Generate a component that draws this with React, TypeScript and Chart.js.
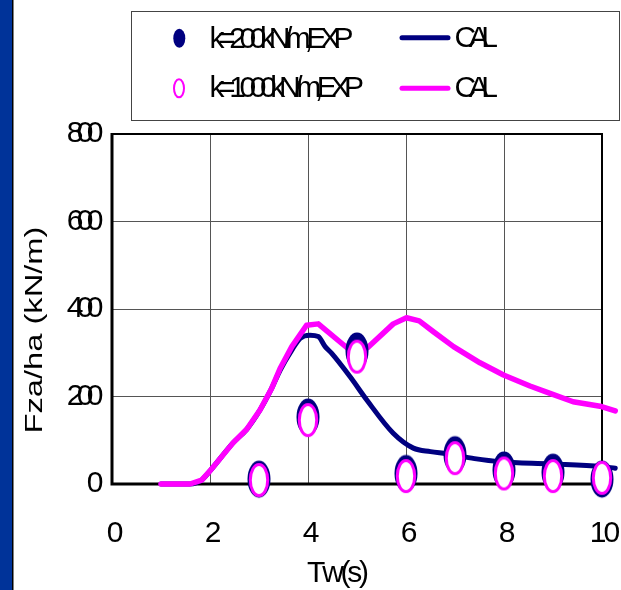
import React, { useEffect, useRef } from "react";
import { Chart, registerables } from "chart.js";

Chart.register(...registerables);

// ---- data ----
const xTicks = [0, 2, 4, 6, 8, 10];
const xTickLabels = ["0", "2", "4", "6", "8", "10"];
const yTicks = [0, 200, 400, 600, 800];
const yTickLabels = ["0", "200", "400", "600", "800"];

const expX = [3, 4, 5, 6, 7, 8, 9, 10];
const exp200 = [11, 153, 304, 24, 67, 32, 27, 11];
const exp1000 = [9, 146, 291, 18, 59, 24, 18, 14];

const cal200X = [1.0, 1.59, 1.83, 2.0, 2.47, 2.75, 3.02, 3.26, 3.43, 3.67, 3.84, 4.04, 4.21, 4.35, 4.48, 4.86, 5.2, 5.74, 6.15, 6.5, 6.83, 7.4, 7.92, 8.94, 9.99, 10.27];
const cal200Y = [0, 0, 9, 30, 94, 125, 169, 219, 260, 306, 333, 340, 337, 314, 299, 245, 192, 116, 82, 74, 69, 58, 51, 46, 40, 36];

const cal1000X = [1.0, 1.59, 1.83, 2.0, 2.47, 2.75, 3.02, 3.26, 3.43, 3.67, 3.97, 4.21, 4.79, 4.97, 5.22, 5.74, 6.01, 6.27, 6.56, 6.97, 7.51, 7.99, 8.53, 8.94, 9.41, 9.99, 10.27];
const cal1000Y = [0, 0, 9, 30, 94, 125, 169, 219, 264, 314, 363, 366, 312, 298, 312, 366, 380, 373, 348, 314, 277, 249, 224, 207, 188, 177, 167];

const seriesLabels = ["k=200kN/m,EXP", "k=1000kN/m,EXP", "CAL", "CAL"];
const xTitle = "Tw(s)";
const yTitle = "Fza/ha (kN/m)";

const NAVY = "#000080";
const PINK = "#FF00FF";
const FONT = '"Liberation Sans", Arial, sans-serif';

function makeNavyMarker() {
  const c = document.createElement("canvas");
  c.width = 26;
  c.height = 40;
  const g = c.getContext("2d")!;
  g.fillStyle = NAVY;
  g.beginPath();
  g.ellipse(13, 20, 11.5, 18.5, 0, 0, Math.PI * 2);
  g.fill();
  return c;
}

function makePinkMarker() {
  const c = document.createElement("canvas");
  c.width = 24;
  c.height = 36;
  const g = c.getContext("2d")!;
  g.fillStyle = "#FFFFFF";
  g.strokeStyle = PINK;
  g.lineWidth = 3;
  g.beginPath();
  g.ellipse(12, 18, 8.7, 15.5, 0, 0, Math.PI * 2);
  g.fill();
  g.stroke();
  return c;
}

function drawSpaced(
  ctx: CanvasRenderingContext2D,
  text: string,
  x: number,
  y: number,
  spacing: number,
  align: "left" | "right" | "center"
) {
  const chars = [...text];
  const widths = chars.map((c) => ctx.measureText(c).width);
  const total = widths.reduce((a, b) => a + b, 0) + spacing * (chars.length - 1);
  let cx = align === "left" ? x : align === "right" ? x - total : x - total / 2;
  ctx.textAlign = "left";
  chars.forEach((c, i) => {
    ctx.fillText(c, cx, y);
    cx += widths[i] + spacing;
  });
}

const decorPlugin = {
  id: "decor",
  beforeDraw(chart: any) {
    const ctx = chart.ctx as CanvasRenderingContext2D;
    ctx.save();
    ctx.fillStyle = "#FFFFFF";
    ctx.fillRect(0, 0, chart.width, chart.height);
    ctx.fillStyle = "#003399";
    ctx.fillRect(0, 0, 12, chart.height);
    ctx.fillStyle = "#000000";
    ctx.fillRect(12, 0, 1.5, chart.height);
    ctx.restore();
  },
  beforeDatasetsDraw(chart: any) {
    const ctx = chart.ctx as CanvasRenderingContext2D;
    const { left, right, top, bottom } = chart.chartArea;
    ctx.save();
    ctx.strokeStyle = "#000000";
    ctx.lineWidth = 2;
    ctx.beginPath();
    ctx.moveTo(left, top);
    ctx.lineTo(right, top);
    ctx.lineTo(right, bottom);
    ctx.stroke();
    ctx.lineWidth = 3;
    ctx.beginPath();
    ctx.moveTo(left, top - 1);
    ctx.lineTo(left, bottom);
    ctx.lineTo(right + 1, bottom);
    ctx.stroke();
    ctx.restore();
  },
  afterDraw(chart: any) {
    const ctx = chart.ctx as CanvasRenderingContext2D;
    const xs = chart.scales.x;
    const ys = chart.scales.y;
    ctx.save();
    ctx.fillStyle = "#000000";
    ctx.textBaseline = "alphabetic";

    // y tick labels
    ctx.font = `30px ${FONT}`;
    yTicks.forEach((v, i) => {
      const py = ys.getPixelForValue(v);
      drawSpaced(ctx, yTickLabels[i], 103.5, py + 8, -6.7, "right");
    });
    // x tick labels
    xTicks.forEach((v, i) => {
      const px = xs.getPixelForValue(v);
      drawSpaced(ctx, xTickLabels[i], px + 3, 541.7, -3, "center");
    });
    // x title
    drawSpaced(ctx, xTitle, 338, 581.7, -3.3, "center");

    // y title (rotated, stretched)
    ctx.save();
    ctx.translate(41.5, 330);
    ctx.rotate(-Math.PI / 2);
    ctx.scale(1.42, 1);
    ctx.font = `23px ${FONT}`;
    ctx.textAlign = "center";
    ctx.fillText(yTitle, 0, 0);
    ctx.restore();

    // legend box
    ctx.strokeStyle = "#444444";
    ctx.lineWidth = 1;
    ctx.strokeRect(131.5, 11.5, 488, 109);

    // legend markers
    ctx.fillStyle = NAVY;
    ctx.beginPath();
    ctx.ellipse(179.3, 38.3, 6, 9.5, 0, 0, Math.PI * 2);
    ctx.fill();
    ctx.fillStyle = "#FFFFFF";
    ctx.strokeStyle = PINK;
    ctx.lineWidth = 2;
    ctx.beginPath();
    ctx.ellipse(179, 88.3, 5, 9, 0, 0, Math.PI * 2);
    ctx.fill();
    ctx.stroke();

    // legend lines
    ctx.lineCap = "round";
    ctx.lineWidth = 5;
    ctx.strokeStyle = NAVY;
    ctx.beginPath();
    ctx.moveTo(402, 37.7);
    ctx.lineTo(448, 37.7);
    ctx.stroke();
    ctx.strokeStyle = PINK;
    ctx.beginPath();
    ctx.moveTo(402, 88.3);
    ctx.lineTo(448, 88.3);
    ctx.stroke();

    // legend texts
    ctx.fillStyle = "#000000";
    ctx.font = `30px ${FONT}`;
    drawSpaced(ctx, seriesLabels[0], 209.5, 47.7, -6.4, "left");
    drawSpaced(ctx, seriesLabels[1], 209.5, 97.3, -6.4, "left");
    drawSpaced(ctx, seriesLabels[2], 454.5, 46.7, -7.5, "left");
    drawSpaced(ctx, seriesLabels[3], 454.5, 97.3, -7.5, "left");
    ctx.restore();
  },
};

export default function App() {
  const ref = useRef<HTMLCanvasElement | null>(null);

  useEffect(() => {
    if (!ref.current) return;
    const navyMarker = makeNavyMarker();
    const pinkMarker = makePinkMarker();
    const gridColor = (c: any) => {
      const v = c.tick && c.tick.value;
      return v === 0 || v === 10 || v === 800 ? "rgba(0,0,0,0)" : "#555555";
    };
    const chart = new Chart(ref.current, {
      type: "line",
      data: {
        datasets: [
          {
            label: seriesLabels[1],
            data: expX.map((x, i) => ({ x, y: exp1000[i] })),
            showLine: false,
            pointStyle: pinkMarker as any,
            pointRadius: 10,
            clip: false as any,
            order: 0,
          },
          {
            label: seriesLabels[0],
            data: expX.map((x, i) => ({ x, y: exp200[i] })),
            showLine: false,
            pointStyle: navyMarker as any,
            pointRadius: 10,
            clip: false as any,
            order: 1,
          },
          {
            label: seriesLabels[3],
            data: cal1000X.map((x, i) => ({ x, y: cal1000Y[i] })),
            borderColor: PINK,
            borderWidth: 5.5,
            pointRadius: 0,
            tension: 0,
            borderJoinStyle: "round",
            borderCapStyle: "round",
            clip: false as any,
            order: 2,
          },
          {
            label: seriesLabels[2],
            data: cal200X.map((x, i) => ({ x, y: cal200Y[i] })),
            borderColor: NAVY,
            borderWidth: 5,
            pointRadius: 0,
            cubicInterpolationMode: "monotone",
            borderJoinStyle: "round",
            borderCapStyle: "round",
            clip: false as any,
            order: 3,
          },
        ],
      },
      options: {
        responsive: false,
        animation: false,
        devicePixelRatio: 1,
        layout: {
          autoPadding: false,
          padding: { left: 112, right: 19, top: 134, bottom: 106 },
        },
        plugins: {
          legend: { display: false },
          tooltip: { enabled: false },
        },
        scales: {
          x: {
            type: "linear",
            min: 0,
            max: 10,
            ticks: { display: false, stepSize: 2 },
            grid: { drawTicks: false, color: gridColor, lineWidth: 1 },
            border: { display: false },
          },
          y: {
            type: "linear",
            min: 0,
            max: 800,
            ticks: { display: false, stepSize: 200 },
            grid: { drawTicks: false, color: gridColor, lineWidth: 1 },
            border: { display: false },
          },
        },
      },
      plugins: [decorPlugin],
    });
    return () => chart.destroy();
  }, []);

  return (
    <div
      style={{
        position: "fixed",
        left: 0,
        top: 0,
        width: 621,
        height: 590,
        background: "#FFFFFF",
      }}
    >
      <canvas ref={ref} width={621} height={590} style={{ display: "block" }} />
    </div>
  );
}
